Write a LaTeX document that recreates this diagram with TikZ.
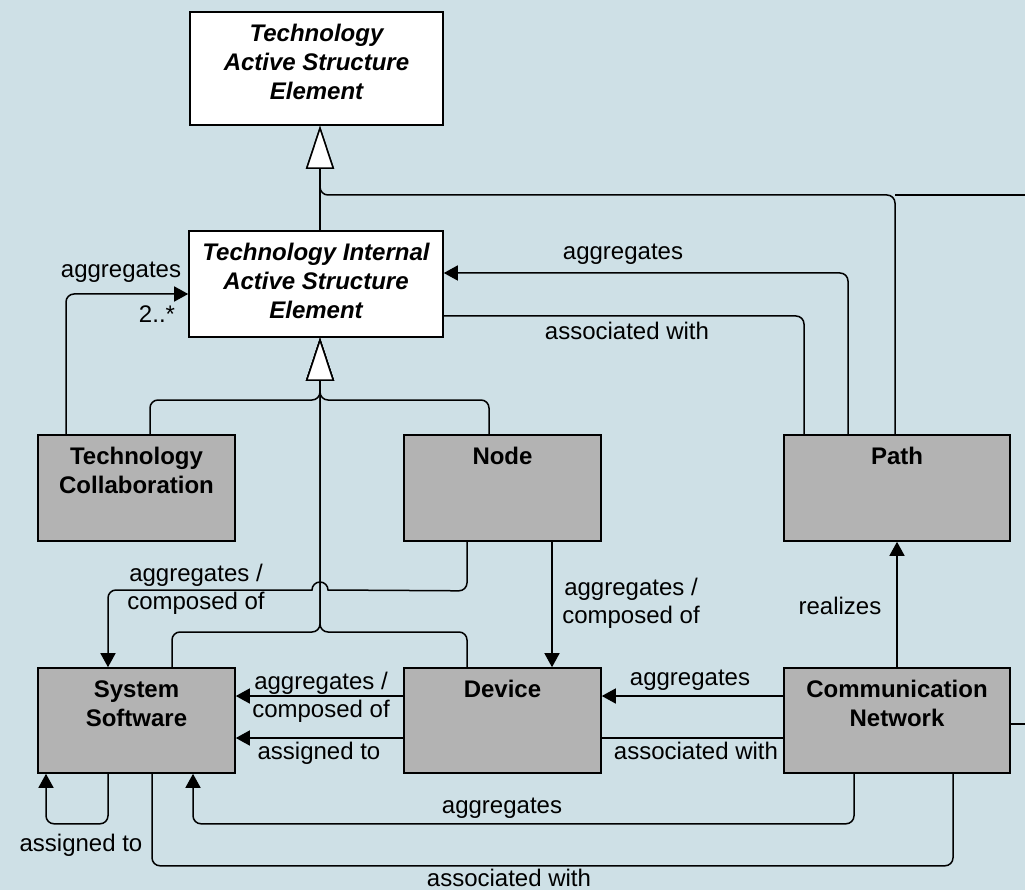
\documentclass[tikz,border=0pt]{standalone}
\usepackage{fontspec}
\setmainfont{Liberation Sans}
\usetikzlibrary{arrows.meta}
\definecolor{bgblue}{RGB}{206,224,230}
\definecolor{boxgray}{RGB}{179,179,179}

\begin{document}
\begin{tikzpicture}[x=1pt,y=-1pt,
  wbox/.style={draw,line width=1.6pt,fill=white,inner sep=0pt,minimum width=197pt,minimum height=106pt},
  gbox/.style={wbox,fill=boxgray},
  ttl/.style={anchor=north,yshift=-13pt,inner sep=0pt,align=center,font=\fontsize{24}{29}\selectfont\bfseries},
  ittl/.style={ttl,font=\fontsize{24}{29}\selectfont\bfseries\itshape},
  lbl/.style={inner sep=0pt,text height=17pt,text depth=5pt,font=\fontsize{24}{28}\selectfont},
  lbl2/.style={inner sep=0pt,align=center,font=\fontsize{24}{28}\selectfont},
  conn/.style={line width=1.5pt,rounded corners=8pt},
  arr/.style={conn,-{Triangle[length=14pt,width=15pt]}},
  gen/.style={conn,-{Triangle[open,length=43pt,width=28pt,fill=white]}}]
  \fill[bgblue] (0,0) rectangle (1025,890);
  \useasboundingbox (0,0) rectangle (1025,890);
  % elements
  \node[wbox,minimum width=253pt,minimum height=113pt,label={[ittl]north:{Technology\\Active Structure\\Element}}] (tase) at (316.5,68.5) {};
  \node[wbox,minimum width=254pt,label={[ittl]north:{Technology Internal\\Active Structure\\Element}}] (tiase) at (316,284) {};
  \node[gbox,label={[ttl]north:{Technology\\Collaboration}}] (tcol) at (136.5,488) {};
  \node[gbox,label={[ttl]north:Node}] (nd) at (502.5,488) {};
  \node[gbox,minimum width=226pt,label={[ttl]north:Path}] (pth) at (897,488) {};
  \node[gbox,minimum height=105pt,label={[ttl]north:{System\\Software}}] (sysw) at (136.5,720.5) {};
  \node[gbox,minimum height=105pt,label={[ttl]north:Device}] (dev) at (502.5,720.5) {};
  \node[gbox,minimum width=226pt,minimum height=105pt,label={[ttl]north:{Communication\\Network}}] (cnet) at (897,720.5) {};
  \coordinate (j1) at (320,400);
  \coordinate (j2) at (320,632);
  \coordinate (j3) at (320,195);
  \coordinate (h) at (320,590);
  \coordinate (e1) at (1025,195);
  \coordinate (e2) at (1025,724);
  % specialisation
  \draw[gen] (tiase.north -| j3) -- (tase.south -| j3);
  \draw[gen] ([xshift=-2pt]pth.north) |- (j3) -- (tase.south -| j3);
  \draw[conn] (e1) -- ([xshift=-2pt]pth.north |- e1);
  \draw[gen] ([xshift=13.5pt]tcol.north) |- (j1) -- (tiase.south -| j1);
  \draw[gen] ([xshift=-13.5pt]nd.north) |- (j1) -- (tiase.south -| j1);
  \draw[gen] ([xshift=35.5pt]sysw.north) |- (j2) -- (tiase.south -| j2);
  \draw[gen] ([xshift=-35.5pt]dev.north) |- (j2) -- (tiase.south -| j2);
  % relations
  \draw[arr] ([xshift=-70.5pt]tcol.north) |- ([yshift=-10pt]tiase.west);
  \draw[arr] ([xshift=-49pt]pth.north) |- ([yshift=11pt]tiase.east);
  \draw[conn] ([yshift=-32pt]tiase.east) -| ([xshift=-93pt]pth.north);
  \draw[arr,sharp corners] ([xshift=-35.5pt]nd.south) -- ++(0,41) arc[start angle=0,end angle=-90,radius=8pt]
    -- ([xshift=8pt]h) arc[start angle=0,end angle=180,radius=8pt]
    -- ([xshift=-204pt]h) arc[start angle=90,end angle=180,radius=8pt] -- ([xshift=-28.5pt]sysw.north);
  \draw[arr] ([xshift=49.5pt]nd.south) -- ([xshift=49.5pt]dev.north);
  \draw[arr] ([yshift=24.5pt]dev.west) -- ([yshift=24.5pt]sysw.east);
  \draw[arr] ([yshift=-17.5pt]dev.west) -- ([yshift=-17.5pt]sysw.east);
  \draw[arr] ([yshift=24.5pt]cnet.west) -- ([yshift=24.5pt]dev.east);
  \draw[conn] ([yshift=-17.5pt]cnet.west) -- ([yshift=-17.5pt]dev.east);
  \draw[arr] (cnet.north) -- (pth.south);
  \draw[arr] ([xshift=-28.5pt]sysw.south) -- ++(0,50) -| ([xshift=-90.5pt]sysw.south);
  \draw[arr] ([xshift=-43pt]cnet.south) -- ++(0,50) -| ([xshift=56.5pt]sysw.south);
  \draw[conn] ([xshift=15.5pt]sysw.south) -- ++(0,92) -| ([xshift=56pt]cnet.south);
  \draw[conn] ([yshift=-3.5pt]cnet.east) -- (e2);
  % labels
  \node[lbl] (l1) at (121,272) {aggregates};
  \node[lbl] (l2) at (157,317) {2..*};
  \node[lbl] (l3) at (623,254) {aggregates};
  \node[lbl] (l4) at (627,334) {associated with};
  \node[lbl2] (l5) at (196,589) {aggregates /\\composed of};
  \node[lbl2] (l6) at (631,603) {aggregates /\\composed of};
  \node[lbl2] (l7) at (321,697) {aggregates /\\composed of};
  \node[lbl] (l8) at (319,753) {assigned to};
  \node[lbl] (l9) at (690,679) {aggregates};
  \node[lbl] (l10) at (696,753) {associated with};
  \node[lbl] (l11) at (840,608) {realizes};
  \node[lbl] (l12) at (81,845) {assigned to};
  \node[lbl] (l13) at (502,807) {aggregates};
  \node[lbl] (l14) at (509,880) {associated with};
\end{tikzpicture}
\end{document}
